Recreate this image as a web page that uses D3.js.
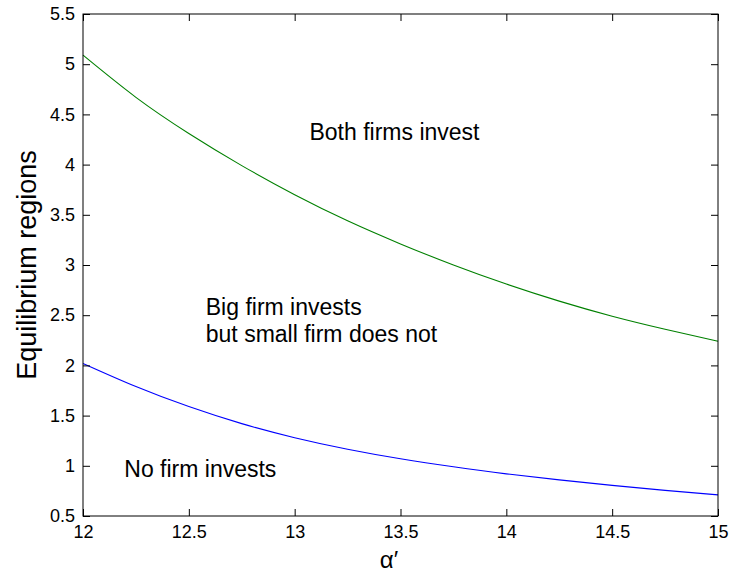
<!DOCTYPE html>
<html>
<head>
<meta charset="utf-8">
<script src="https://cdn.jsdelivr.net/npm/d3@7"></script>
<style>
  html, body { margin: 0; padding: 0; background: #fff; }
  svg { display: block; font-family: Arial, "Liberation Sans", sans-serif; }
</style>
</head>
<body>
<svg id="chart" width="729" height="577"></svg>
<script>
// alpha' grid and the two boundary curves between equilibrium regions
const alphaValues = [12, 12.25, 12.5, 12.75, 13, 13.25, 13.5, 13.75, 14, 14.25, 14.5, 14.75, 15];
const upperBoundary = [5.09, 4.67, 4.31, 3.99, 3.70, 3.44, 3.21, 3.00, 2.81, 2.64, 2.49, 2.36, 2.24];
const lowerBoundary = [2.02, 1.79, 1.59, 1.42, 1.28, 1.165, 1.07, 0.99, 0.92, 0.86, 0.805, 0.755, 0.71];

const xTicks = [12, 12.5, 13, 13.5, 14, 14.5, 15];
const yTicks = [0.5, 1, 1.5, 2, 2.5, 3, 3.5, 4, 4.5, 5, 5.5];

const regionLabels = [
  { lines: ["Both firms invest"], x: 13.07, y: 4.245 },
  { lines: ["Big firm invests", "but small firm does not"], x: 12.58, y: 2.5 },
  { lines: ["No firm invests"], x: 12.195, y: 0.89 }
];

const margin = { left: 83, right: 11, top: 14, bottom: 61 };
const W = 729, H = 577;
const svg = d3.select("#chart");

const x = d3.scaleLinear().domain([12, 15]).range([margin.left, W - margin.right]);
const y = d3.scaleLinear().domain([0.5, 5.5]).range([H - margin.bottom, margin.top]);

const tickLen = 7;
const fmt = d => String(d);

// boundary curves
const line = d3.line().x((d, i) => x(alphaValues[i])).y(d => y(d)).curve(d3.curveNatural);
svg.append("path").datum(upperBoundary).attr("d", line)
  .attr("fill", "none").attr("stroke", "#008000").attr("stroke-width", 1.1);
svg.append("path").datum(lowerBoundary).attr("d", line)
  .attr("fill", "none").attr("stroke", "#0000ff").attr("stroke-width", 1.1);

// axes with inward ticks on all four sides
const axisStyle = g => {
  g.select(".domain").remove();
  g.selectAll(".tick line").attr("stroke", "#000");
  g.selectAll("text").attr("fill", "#000").style("font-size", "18px")
    .style("font-family", "Arial, 'Liberation Sans', sans-serif");
};

svg.append("g").attr("transform", `translate(0,${y(0.5)})`)
  .call(d3.axisBottom(x).tickValues(xTicks).tickFormat(fmt).tickSizeInner(-tickLen).tickSizeOuter(0).tickPadding(9))
  .call(axisStyle);
svg.append("g").attr("transform", `translate(0,${y(5.5)})`)
  .call(d3.axisTop(x).tickValues(xTicks).tickFormat("").tickSizeInner(-tickLen).tickSizeOuter(0))
  .call(axisStyle);
svg.append("g").attr("transform", `translate(${x(12)},0)`)
  .call(d3.axisLeft(y).tickValues(yTicks).tickFormat(fmt).tickSizeInner(-tickLen).tickSizeOuter(0).tickPadding(8))
  .call(axisStyle);
svg.append("g").attr("transform", `translate(${x(15)},0)`)
  .call(d3.axisRight(y).tickValues(yTicks).tickFormat("").tickSizeInner(-tickLen).tickSizeOuter(0))
  .call(axisStyle);

// frame
svg.append("rect")
  .attr("x", x(12)).attr("y", y(5.5))
  .attr("width", x(15) - x(12)).attr("height", y(0.5) - y(5.5))
  .attr("fill", "none").attr("stroke", "#000").attr("stroke-width", 1);

// region annotations
regionLabels.forEach(r => {
  const t = svg.append("text").attr("x", x(r.x)).attr("y", y(r.y))
    .attr("fill", "#000").style("font-size", "23px");
  r.lines.forEach((s, i) => {
    t.append("tspan").attr("x", x(r.x)).attr("dy", i === 0 ? 0 : 27).text(s);
  });
});

// axis titles
svg.append("text")
  .attr("transform", `translate(36,${(y(0.5) + y(5.5)) / 2}) rotate(-90)`)
  .attr("text-anchor", "middle").attr("fill", "#000")
  .style("font-size", "27px").text("Equilibrium regions");

svg.append("text")
  .attr("x", 389).attr("y", 568)
  .attr("text-anchor", "middle").attr("fill", "#000")
  .style("font-size", "24px").text("α′");
</script>
</body>
</html>
